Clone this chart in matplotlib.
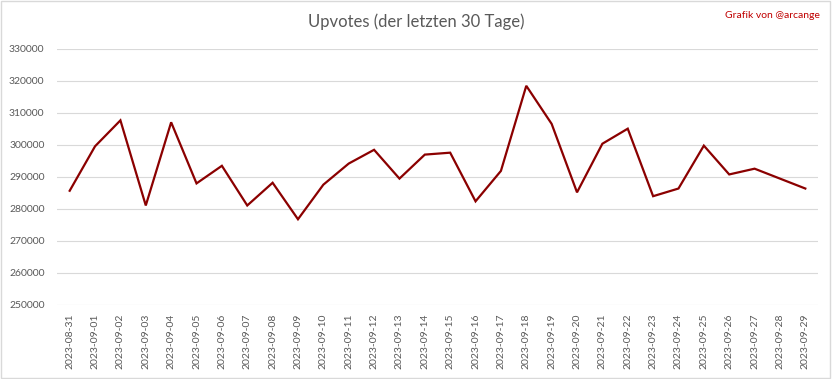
import numpy as np
import matplotlib.pyplot as plt
from matplotlib.patches import Rectangle

plt.rcParams['font.family'] = ['Lato', 'DejaVu Sans']

dates = ['2023-08-31'] + ['2023-09-%02d' % d for d in range(1, 30)]
upvotes = [285700, 299600, 307700, 281100, 307100, 288000, 293500, 281100,
           288200, 276800, 287600, 294200, 298500, 289500, 297000, 297600,
           282400, 291900, 318500, 306600, 285200, 300400, 305100, 284000,
           286400, 299800, 290800, 292600, 289500, 286400]
y_ticks = list(range(250000, 330001, 10000))

fig = plt.figure(figsize=(8.32, 3.79), dpi=100)
ax = fig.add_axes([57 / 832, 1 - 305 / 379, 761 / 832, 256 / 379])

x = np.arange(len(dates))
ax.plot(x, upvotes, color='#8b0000', lw=1.6, solid_joinstyle='miter')

ax.set_xlim(-0.5, len(dates) - 0.5)
ax.set_ylim(250000, 330000)
ax.set_yticks(y_ticks)
ax.set_yticklabels([str(v) for v in y_ticks])
ax.set_xticks(x)
ax.set_xticklabels(dates, rotation=90)
ax.tick_params(length=0, labelsize=7.5, colors='#595959')
ax.tick_params(axis='x', pad=6)
ax.tick_params(axis='y', pad=9)
ax.grid(axis='y', color='#d9d9d9', lw=0.8)
ax.set_axisbelow(True)
for s in ax.spines.values():
    s.set_visible(False)

fig.text(0.5, 1 - 22 / 379, 'Upvotes (der letzten 30 Tage)', ha='center', va='center',
         fontsize=12, color='#595959')
fig.text(820 / 832, 1 - 15 / 379, 'Grafik von @arcange', ha='right', va='center',
         fontsize=7.5, color='#c00000')
fig.patches.append(Rectangle((0.001, 0.002), 0.997, 0.995, transform=fig.transFigure,
                             fill=False, edgecolor='#d9d9d9', lw=1))

fig.savefig('out.png', dpi=100)
